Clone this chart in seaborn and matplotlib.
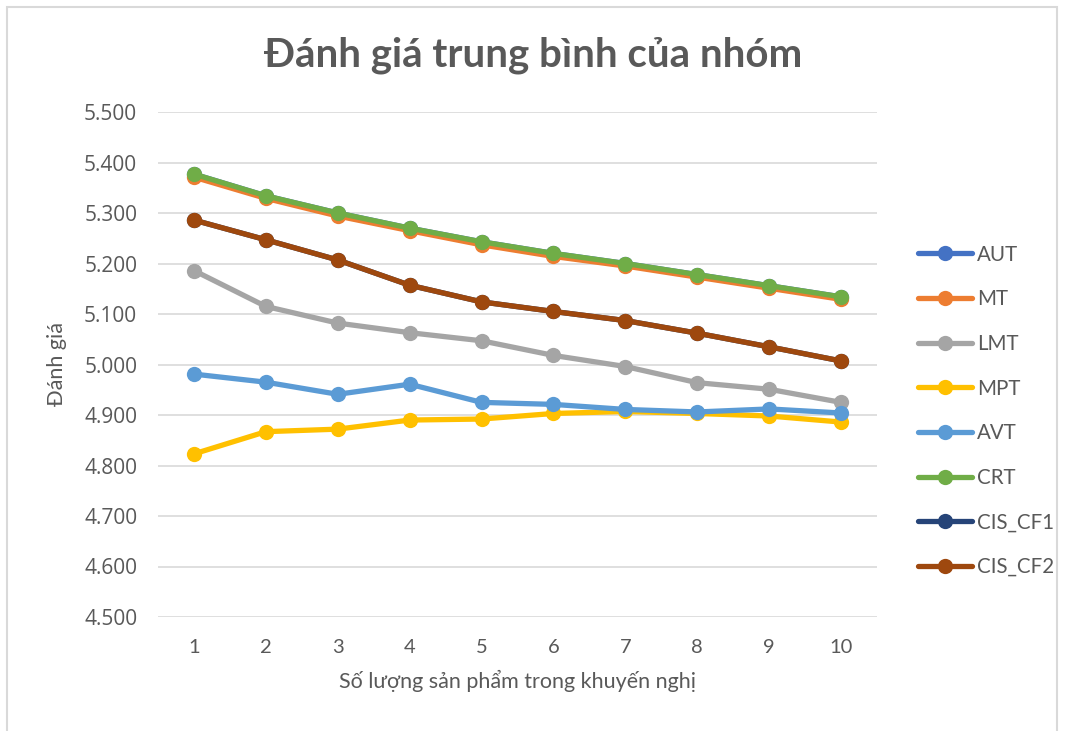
import matplotlib
matplotlib.use("Agg")
import matplotlib.pyplot as plt
import seaborn as sns
import numpy as np
import pandas as pd
from matplotlib.patches import Rectangle
from matplotlib.ticker import FormatStrFormatter

# Data
k_values = [1, 2, 3, 4, 5, 6, 7, 8, 9, 10]
series_names = ["AUT", "MT", "LMT", "MPT", "AVT", "CRT", "CIS_CF1", "CIS_CF2"]

aut = [5.377, 5.334, 5.300, 5.270, 5.243, 5.220, 5.200, 5.178, 5.156, 5.134]
mt = [5.371, 5.329, 5.294, 5.265, 5.237, 5.214, 5.195, 5.173, 5.151, 5.129]
lmt = [5.186, 5.115, 5.082, 5.063, 5.047, 5.018, 4.996, 4.964, 4.951, 4.925]
mpt = [4.823, 4.867, 4.872, 4.890, 4.892, 4.903, 4.907, 4.903, 4.898, 4.886]
avt = [4.981, 4.965, 4.941, 4.961, 4.925, 4.921, 4.911, 4.906, 4.912, 4.904]
crt = [5.377, 5.334, 5.300, 5.270, 5.243, 5.220, 5.200, 5.178, 5.156, 5.134]
cis_cf1 = [5.286, 5.247, 5.207, 5.157, 5.124, 5.105, 5.087, 5.062, 5.035, 5.007]
cis_cf2 = [5.286, 5.247, 5.207, 5.157, 5.124, 5.105, 5.087, 5.062, 5.035, 5.007]

colors = ["#4472C4", "#ED7D31", "#A5A5A5", "#FFC000",
          "#5B9BD5", "#70AD47", "#264478", "#9E480E"]

all_values = [aut, mt, lmt, mpt, avt, crt, cis_cf1, cis_cf2]
rows = []
for name, vals in zip(series_names, all_values):
    for k, v in zip(k_values, vals):
        rows.append({"k": k, "value": v, "series": name})
df = pd.DataFrame(rows)

sns.set_theme(style="white")
plt.rcParams['font.family'] = ['Lato', 'DejaVu Sans']

fig = plt.figure(figsize=(10.65, 7.31), dpi=100)
ax = fig.add_axes([158 / 1065, 114 / 731, 719 / 1065, 505 / 731])

sns.lineplot(data=df, x="k", y="value", hue="series", hue_order=series_names,
             palette=dict(zip(series_names, colors)), marker="o",
             markersize=11, markeredgewidth=0, linewidth=3.8, ax=ax,
             legend=False)

ax.set_xlim(0.5, 10.5)
ax.set_ylim(4.5, 5.5)
ax.set_yticks(np.arange(4.5, 5.51, 0.1))
ax.set_xticks(k_values)
ax.yaxis.set_major_formatter(FormatStrFormatter('%.3f'))
ax.grid(axis="y", color="#d9d9d9", linewidth=1.2)
ax.grid(axis="x", visible=False)
ax.set_axisbelow(True)
for s in ax.spines.values():
    s.set_visible(False)

ax.tick_params(axis="both", length=0, colors="#595959", labelsize=14.5)
ax.tick_params(axis="y", pad=15)
ax.tick_params(axis="x", pad=16)
for lbl in ax.get_yticklabels():
    lbl.set_family(['Open Sans', 'DejaVu Sans'])
    lbl.set_fontsize(15)

ax.set_xlabel("Số lượng sản phẩm trong khuyến nghị", fontsize=15.5,
              color="#595959", labelpad=10)
ax.set_ylabel("Đánh giá", fontsize=15.5, color="#595959", labelpad=12)
fig.text(533 / 1065, 1 - 55 / 731, "Đánh giá trung bình của nhóm",
         ha="center", va="center", fontsize=29, fontweight="bold",
         color="#595959")

# legend
handles = [plt.Line2D([0], [0], color=c, linewidth=3.8, marker="o",
                      markersize=11, markeredgewidth=0) for c in colors]
fig.legend(handles, series_names, loc="upper left",
           bbox_to_anchor=(899 / 1065, 1 - 226 / 731), frameon=False,
           fontsize=14.8, labelcolor="#595959", handlelength=2.65,
           handletextpad=0.25, labelspacing=1.2)

# chart frame
fig.patches.append(Rectangle((7 / 1065, -0.05), 1050 / 1065, 1.05 - 7 / 731,
                             transform=fig.transFigure, fill=False,
                             edgecolor="#d9d9d9", linewidth=1.5))

fig.savefig("out.png", dpi=100)
